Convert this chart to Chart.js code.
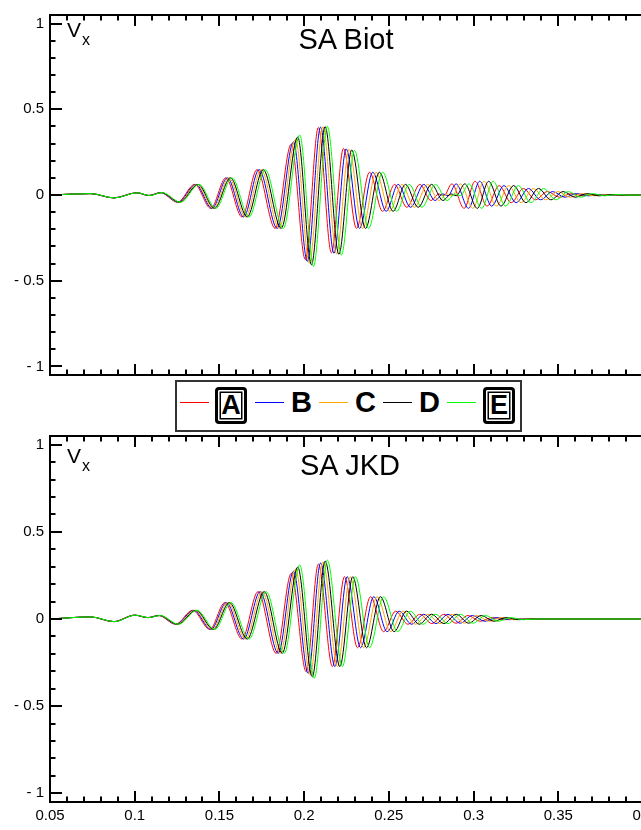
<!DOCTYPE html>
<html>
<head>
<meta charset="utf-8">
<script src="https://cdn.jsdelivr.net/npm/chart.js@4.4.0/dist/chart.umd.min.js"></script>
<style>
  html, body { margin: 0; padding: 0; background: #fff; overflow: hidden; }
  #wrap { position: relative; width: 641px; height: 830px; overflow: hidden;
          font-family: "Liberation Sans", Arial, Helvetica, sans-serif; color: #000; }
  canvas { position: absolute; left: 0; }
  #cTop { top: 0; }
  #cBottom { top: 380px; }
  .title { position: absolute; font-size: 29px; line-height: 1; white-space: nowrap; transform: translateX(-50%); }
  .vlab { position: absolute; font-size: 21px; line-height: 1; white-space: nowrap; }
  .vlab span { font-size: 16px; position: relative; top: 8px; margin-left: 1px; }
  #legendBox { position: absolute; left: 175px; top: 380px; width: 343px; height: 48px;
               border: 2px solid #333; background: #fff; }
  .swatch { position: absolute; top: 402px; width: 29px; height: 1px; }
  .letter { position: absolute; top: 388px; font-size: 29px; line-height: 29px; font-weight: bold; }
  .boxed { position: absolute; top: 387px; width: 32px; height: 37px; box-sizing: border-box;
           border: 3px solid #000; border-radius: 4px; text-align: center;
           font-size: 27px; line-height: 31px; font-weight: bold;
           box-shadow: inset 0 0 0 1.5px #fff, inset 0 0 0 3px #000; }
</style>
</head>
<body>
<div id="wrap">
  <canvas id="cTop" width="700" height="390" style="width:700px;height:390px"></canvas>
  <canvas id="cBottom" width="700" height="450" style="width:700px;height:450px"></canvas>
  <div class="title" style="left:346px; top:25px;">SA Biot</div>
  <div class="title" style="left:350px; top:451px;">SA JKD</div>
  <div class="vlab" style="left:67px; top:19px;">V<span>x</span></div>
  <div class="vlab" style="left:67px; top:445px;">V<span>x</span></div>
  <div id="legendBox"></div>
</div>
<script>
// Five receivers, A..E
const seriesNames = ['A', 'B', 'C', 'D', 'E'];
const seriesColors = ['#ff0000', '#0000ff', '#ffa500', '#000000', '#00ff00'];
const boxedNames = ['A', 'E'];

// ---- SA Biot: extremum times (s) and Vx values for each receiver ----
const biotTimeA = [0.0500, 0.0737, 0.0874, 0.1010, 0.1081, 0.1152, 0.1253, 0.1354, 0.1449, 0.1538, 0.1633, 0.1722, 0.1829, 0.1924, 0.2007, 0.2084, 0.2161, 0.2232, 0.2309, 0.2386, 0.2463, 0.2534, 0.2606, 0.2683, 0.2748, 0.2795, 0.2825, 0.2872, 0.2944, 0.3009, 0.3080, 0.3151, 0.3222, 0.3294, 0.3365, 0.3436, 0.3507, 0.3578, 0.3649, 0.3721, 0.3792, 0.4000];
const biotTimeB = [0.0500, 0.0739, 0.0876, 0.1012, 0.1083, 0.1154, 0.1257, 0.1361, 0.1456, 0.1547, 0.1643, 0.1734, 0.1841, 0.1937, 0.2019, 0.2097, 0.2176, 0.2248, 0.2327, 0.2405, 0.2484, 0.2555, 0.2628, 0.2706, 0.2772, 0.2819, 0.2849, 0.2897, 0.2970, 0.3036, 0.3107, 0.3179, 0.3251, 0.3324, 0.3395, 0.3467, 0.3538, 0.3609, 0.3680, 0.3752, 0.3823, 0.4000];
const biotTimeC = [0.0500, 0.0740, 0.0877, 0.1013, 0.1085, 0.1157, 0.1262, 0.1367, 0.1464, 0.1556, 0.1654, 0.1746, 0.1853, 0.1949, 0.2031, 0.2111, 0.2191, 0.2265, 0.2345, 0.2425, 0.2505, 0.2577, 0.2650, 0.2729, 0.2795, 0.2844, 0.2874, 0.2922, 0.2996, 0.3062, 0.3135, 0.3207, 0.3280, 0.3353, 0.3425, 0.3498, 0.3569, 0.3640, 0.3711, 0.3783, 0.3854, 0.4000];
const biotTimeD = [0.0500, 0.0742, 0.0879, 0.1015, 0.1086, 0.1159, 0.1266, 0.1374, 0.1471, 0.1565, 0.1664, 0.1758, 0.1865, 0.1962, 0.2043, 0.2124, 0.2205, 0.2281, 0.2362, 0.2444, 0.2525, 0.2598, 0.2673, 0.2752, 0.2819, 0.2868, 0.2898, 0.2948, 0.3022, 0.3089, 0.3162, 0.3236, 0.3309, 0.3383, 0.3456, 0.3529, 0.3600, 0.3671, 0.3742, 0.3814, 0.3885, 0.4000];
const biotTimeE = [0.0500, 0.0743, 0.0880, 0.1016, 0.1088, 0.1162, 0.1271, 0.1380, 0.1479, 0.1574, 0.1675, 0.1770, 0.1877, 0.1974, 0.2055, 0.2137, 0.2220, 0.2297, 0.2380, 0.2463, 0.2546, 0.2620, 0.2695, 0.2775, 0.2843, 0.2892, 0.2922, 0.2973, 0.3048, 0.3116, 0.3189, 0.3264, 0.3338, 0.3413, 0.3486, 0.3560, 0.3631, 0.3702, 0.3773, 0.3845, 0.3916, 0.4000];

const biotVxA = [0, 0.008, -0.017, 0.013, -0.003, 0.014, -0.042, 0.062, -0.078, 0.100, -0.128, 0.148, -0.195, 0.297, -0.377, 0.394, -0.337, 0.272, -0.195, 0.133, -0.095, 0.062, -0.072, 0.062, -0.032, 0.006, -0.004, 0.065, -0.078, 0.080, -0.065, 0.055, -0.045, 0.038, -0.028, 0.020, -0.013, 0.008, -0.005, 0.003, -0.001, 0];
const biotVxB = [0, 0.008, -0.017, 0.013, -0.003, 0.014, -0.042, 0.062, -0.078, 0.100, -0.128, 0.148, -0.195, 0.310, -0.387, 0.396, -0.340, 0.269, -0.195, 0.133, -0.095, 0.062, -0.072, 0.062, -0.032, 0.006, -0.004, 0.065, -0.078, 0.080, -0.065, 0.055, -0.045, 0.038, -0.028, 0.020, -0.013, 0.008, -0.005, 0.003, -0.001, 0];
const biotVxC = [0, 0.008, -0.017, 0.013, -0.003, 0.014, -0.042, 0.062, -0.078, 0.100, -0.128, 0.148, -0.195, 0.325, -0.397, 0.398, -0.343, 0.266, -0.195, 0.133, -0.095, 0.062, -0.072, 0.062, -0.032, 0.006, -0.004, 0.065, -0.078, 0.080, -0.065, 0.055, -0.045, 0.038, -0.028, 0.020, -0.013, 0.008, -0.005, 0.003, -0.001, 0];
const biotVxD = [0, 0.008, -0.017, 0.013, -0.003, 0.014, -0.042, 0.062, -0.078, 0.100, -0.128, 0.148, -0.195, 0.338, -0.407, 0.399, -0.346, 0.263, -0.195, 0.133, -0.095, 0.062, -0.072, 0.062, -0.032, 0.006, -0.004, 0.065, -0.078, 0.080, -0.065, 0.055, -0.045, 0.038, -0.028, 0.020, -0.013, 0.008, -0.005, 0.003, -0.001, 0];
const biotVxE = [0, 0.008, -0.017, 0.013, -0.003, 0.014, -0.042, 0.062, -0.078, 0.100, -0.128, 0.148, -0.195, 0.350, -0.416, 0.400, -0.350, 0.260, -0.195, 0.133, -0.095, 0.062, -0.072, 0.062, -0.032, 0.006, -0.004, 0.065, -0.078, 0.080, -0.065, 0.055, -0.045, 0.038, -0.028, 0.020, -0.013, 0.008, -0.005, 0.003, -0.001, 0];

// ---- SA JKD: extremum times (s) and Vx values for each receiver ----
const jkdTimeA = [0.0500, 0.0737, 0.0874, 0.0998, 0.1075, 0.1141, 0.1241, 0.1342, 0.1443, 0.1532, 0.1633, 0.1728, 0.1835, 0.1924, 0.2012, 0.2084, 0.2167, 0.2238, 0.2315, 0.2392, 0.2469, 0.2540, 0.2612, 0.2683, 0.2754, 0.2825, 0.2896, 0.2967, 0.3039, 0.3110, 0.3181, 0.3258, 0.4000];
const jkdTimeB = [0.0500, 0.0739, 0.0876, 0.1000, 0.1077, 0.1143, 0.1245, 0.1349, 0.1450, 0.1541, 0.1643, 0.1740, 0.1847, 0.1937, 0.2024, 0.2097, 0.2182, 0.2254, 0.2333, 0.2411, 0.2490, 0.2561, 0.2634, 0.2706, 0.2778, 0.2849, 0.2921, 0.2993, 0.3066, 0.3137, 0.3209, 0.3287, 0.4000];
const jkdTimeC = [0.0500, 0.0740, 0.0877, 0.1001, 0.1079, 0.1146, 0.1250, 0.1355, 0.1458, 0.1550, 0.1654, 0.1752, 0.1859, 0.1949, 0.2036, 0.2111, 0.2197, 0.2271, 0.2351, 0.2431, 0.2511, 0.2583, 0.2656, 0.2729, 0.2801, 0.2874, 0.2946, 0.3019, 0.3092, 0.3165, 0.3237, 0.3316, 0.4000];
const jkdTimeD = [0.0500, 0.0742, 0.0879, 0.1003, 0.1080, 0.1148, 0.1254, 0.1362, 0.1465, 0.1559, 0.1664, 0.1764, 0.1871, 0.1962, 0.2048, 0.2124, 0.2211, 0.2287, 0.2368, 0.2450, 0.2531, 0.2604, 0.2679, 0.2752, 0.2825, 0.2898, 0.2971, 0.3045, 0.3119, 0.3192, 0.3266, 0.3345, 0.4000];
const jkdTimeE = [0.0500, 0.0743, 0.0880, 0.1004, 0.1082, 0.1151, 0.1259, 0.1368, 0.1473, 0.1568, 0.1675, 0.1776, 0.1883, 0.1974, 0.2060, 0.2137, 0.2226, 0.2303, 0.2386, 0.2469, 0.2552, 0.2626, 0.2701, 0.2775, 0.2849, 0.2922, 0.2996, 0.3071, 0.3146, 0.3219, 0.3294, 0.3374, 0.4000];

const jkdVxA = [0, 0.012, -0.015, 0.022, 0.008, 0.020, -0.030, 0.050, -0.060, 0.094, -0.115, 0.157, -0.197, 0.262, -0.302, 0.315, -0.273, 0.243, -0.165, 0.128, -0.073, 0.045, -0.030, 0.027, -0.026, 0.027, -0.024, 0.020, -0.013, 0.008, -0.004, 0, 0];
const jkdVxB = [0, 0.012, -0.015, 0.022, 0.008, 0.020, -0.030, 0.050, -0.060, 0.094, -0.115, 0.157, -0.197, 0.274, -0.312, 0.321, -0.273, 0.243, -0.165, 0.128, -0.073, 0.045, -0.030, 0.027, -0.026, 0.027, -0.024, 0.020, -0.013, 0.008, -0.004, 0, 0];
const jkdVxC = [0, 0.012, -0.015, 0.022, 0.008, 0.020, -0.030, 0.050, -0.060, 0.094, -0.115, 0.157, -0.197, 0.286, -0.321, 0.327, -0.273, 0.243, -0.165, 0.128, -0.073, 0.045, -0.030, 0.027, -0.026, 0.027, -0.024, 0.020, -0.013, 0.008, -0.004, 0, 0];
const jkdVxD = [0, 0.012, -0.015, 0.022, 0.008, 0.020, -0.030, 0.050, -0.060, 0.094, -0.115, 0.157, -0.197, 0.298, -0.331, 0.332, -0.273, 0.243, -0.165, 0.128, -0.073, 0.045, -0.030, 0.027, -0.026, 0.027, -0.024, 0.020, -0.013, 0.008, -0.004, 0, 0];
const jkdVxE = [0, 0.012, -0.015, 0.022, 0.008, 0.020, -0.030, 0.050, -0.060, 0.094, -0.115, 0.157, -0.197, 0.310, -0.340, 0.338, -0.273, 0.243, -0.165, 0.128, -0.073, 0.045, -0.030, 0.027, -0.026, 0.027, -0.024, 0.020, -0.013, 0.008, -0.004, 0, 0];

// Axis ranges and tick spacing
const xRange = [0.05, 0.4];
const yRange = [-1.05, 1.05];
const xMajorStep = 0.05, xMinorStep = 0.01;
const yMajorStep = 0.5, yMinorStep = 0.1;

Chart.defaults.font.family = '"Liberation Sans", Arial, Helvetica, sans-serif';
Chart.defaults.color = '#000';

function buildDatasets(times, values) {
  return times.map((ts, i) => ({
    label: seriesNames[i],
    data: ts.map((t, j) => ({ x: t, y: values[i][j] })),
    borderColor: seriesColors[i],
    borderWidth: 1,
    pointRadius: 0,
    fill: false,
    cubicInterpolationMode: 'monotone',
    order: times.length - i
  }));
}

// Frame with inward major/minor ticks on left, top and bottom
const frameTicks = {
  id: 'frameTicks',
  afterDatasetsDraw(chart) {
    const { ctx, chartArea: a, scales: { x, y } } = chart;
    ctx.save();
    ctx.strokeStyle = '#000';
    ctx.lineWidth = 2;
    ctx.beginPath();
    const nx = Math.round((xRange[1] - xRange[0]) / xMinorStep);
    const per = Math.round(xMajorStep / xMinorStep);
    for (let i = 0; i <= nx; i++) {
      const px = Math.round(x.getPixelForValue(xRange[0] + i * xMinorStep));
      const len = i % per === 0 ? 11 : 5.5;
      ctx.moveTo(px, a.bottom); ctx.lineTo(px, a.bottom - len);
      ctx.moveTo(px, a.top); ctx.lineTo(px, a.top + len);
    }
    const ny = Math.round(1 / yMinorStep);
    const perY = Math.round(yMajorStep / yMinorStep);
    for (let j = -ny; j <= ny; j++) {
      const py = Math.round(y.getPixelForValue(j * yMinorStep));
      const len = j % perY === 0 ? 12 : 5.5;
      ctx.moveTo(a.left, py); ctx.lineTo(a.left + len, py);
    }
    ctx.stroke();
    ctx.strokeRect(Math.round(a.left), Math.round(a.top), Math.round(a.right - a.left), Math.round(a.bottom - a.top));
    ctx.restore();
  }
};

function yLabel(v) {
  if (Math.abs(v) < 1e-9) return '0';
  const s = String(Math.round(Math.abs(v) * 100) / 100);
  return v < 0 ? '- ' + s : s;
}

function makePanel(canvasId, times, values, showXLabels, padTop, padBottom) {
  return new Chart(document.getElementById(canvasId), {
    type: 'line',
    data: { datasets: buildDatasets(times, values) },
    options: {
      responsive: false,
      animation: false,
      devicePixelRatio: 1,
      events: [],
      layout: { padding: { top: padTop, right: 57, bottom: padBottom, left: 0 } },
      plugins: { legend: { display: false }, tooltip: { enabled: false }, title: { display: false } },
      scales: {
        x: {
          type: 'linear', min: xRange[0], max: xRange[1],
          grid: { display: false, drawTicks: false },
          border: { display: false },
          ticks: {
            display: showXLabels,
            stepSize: xMajorStep, includeBounds: false, maxRotation: 0, autoSkip: false,
            padding: 5, font: { size: 15 },
            callback: v => String(Math.round(v * 100) / 100)
          },
          afterFit: s => { s.height = showXLabels ? 28 : 0; }
        },
        y: {
          type: 'linear', min: yRange[0], max: yRange[1],
          grid: { display: false, drawTicks: false },
          border: { display: false },
          ticks: { stepSize: yMajorStep, includeBounds: false, padding: 6, font: { size: 15 }, callback: yLabel },
          afterFit: s => { s.width = 50; }
        }
      }
    },
    plugins: [frameTicks]
  });
}

makePanel('cTop',
  [biotTimeA, biotTimeB, biotTimeC, biotTimeD, biotTimeE],
  [biotVxA, biotVxB, biotVxC, biotVxD, biotVxE], false, 11, 5);
makePanel('cBottom',
  [jkdTimeA, jkdTimeB, jkdTimeC, jkdTimeD, jkdTimeE],
  [jkdVxA, jkdVxB, jkdVxC, jkdVxD, jkdVxE], true, 56, 0);

// Legend between the two panels
const wrap = document.getElementById('wrap');
const swatchLeft = [180, 255, 319, 383, 447];
const letterLeft = [215, 291, 355, 419, 483];
seriesNames.forEach((name, i) => {
  const sw = document.createElement('div');
  sw.className = 'swatch';
  sw.style.left = swatchLeft[i] + 'px';
  sw.style.background = seriesColors[i];
  wrap.appendChild(sw);
  const lab = document.createElement('div');
  lab.className = boxedNames.includes(name) ? 'boxed' : 'letter';
  lab.style.left = letterLeft[i] + 'px';
  lab.textContent = name;
  wrap.appendChild(lab);
});
</script>
</body>
</html>
